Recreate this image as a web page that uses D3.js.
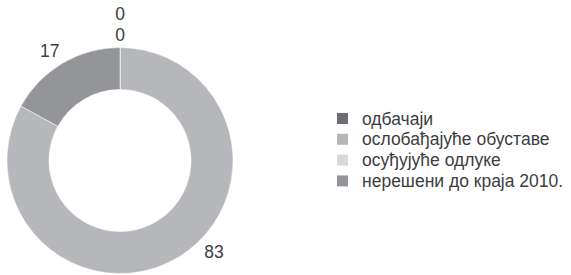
<!DOCTYPE html>
<html>
<head>
<meta charset="utf-8">
<script src="https://cdn.jsdelivr.net/npm/d3@7"></script>
<style>
  body { margin: 0; background: #fff; }
  text { font-family: "Liberation Sans", "DejaVu Sans", sans-serif; }
</style>
</head>
<body>
<div id="chart"></div>
<script>
var width = 571;
var height = 275;

// data
var categories = ["одбачаји", "ослобађајуће обуставе", "осуђујуће одлуке", "нерешени до краја 2010."];
var values = [0, 83, 0, 17];
var colors = ["#6d6e71", "#b6b7ba", "#d8d9db", "#939598"];

var cx = 120, cy = 160.5;
var outerR = 113, innerR = 71;
var labelGap = 6;
var labelSize = 17.5;

var svg = d3.select("#chart").append("svg")
  .attr("width", width)
  .attr("height", height)
  .style("background-color", "#fff");

var rows = categories.map(function (c, i) {
  return { name: c, value: values[i], color: colors[i], idx: i };
});

// zero slices go first so their labels sit at the top
var pie = d3.pie()
  .value(function (d) { return d.value; })
  .sort(function (a, b) {
    if ((a.value === 0) !== (b.value === 0)) return a.value === 0 ? -1 : 1;
    return a.idx - b.idx;
  });

var arcs = pie(rows);
var arc = d3.arc().innerRadius(innerR).outerRadius(outerR);

var g = svg.append("g").attr("transform", "translate(" + cx + "," + cy + ")");

g.selectAll("path")
  .data(arcs)
  .join("path")
  .attr("d", arc)
  .attr("fill", function (d) { return d.data.color; })
  .attr("stroke", "#fff")
  .attr("stroke-width", 0.5);

// labels: box placed just outside the ring at the mid angle
var zeroCount = 0;
var labels = g.selectAll(".lbl")
  .data(arcs)
  .join("text")
  .attr("class", "lbl")
  .attr("text-anchor", "middle")
  .attr("dominant-baseline", "central")
  .attr("font-size", labelSize)
  .attr("fill", "#3d3d3f")
  .text(function (d) { return d.data.value; });

labels.attr("transform", function (d) {
  var w = this.getComputedTextLength();
  var h = labelSize * 0.8;
  var a = (d.startAngle + d.endAngle) / 2;
  if (a > Math.PI * 0.75 && a < Math.PI) a = Math.PI * 0.75; // keep inside the box
  var r = outerR + labelGap;
  var s = Math.sin(a), c = Math.cos(a);
  var x = r * s + (Math.abs(s) > 0.1 ? Math.sign(s) * w / 2 : 0);
  var y = -r * c - (Math.abs(c) > 0.1 ? Math.sign(c) * h / 2 : 0);
  if (d.data.value === 0) {
    y -= zeroCount * 21;
    zeroCount++;
  }
  return "translate(" + x + "," + y + ")";
});

// legend
var legend = svg.append("g").attr("transform", "translate(337,113)");
var item = legend.selectAll(".item")
  .data(rows)
  .join("g")
  .attr("class", "item")
  .attr("transform", function (d, i) { return "translate(0," + (i * 20.8) + ")"; });

item.append("rect")
  .attr("width", 11)
  .attr("height", 11)
  .attr("fill", function (d) { return d.color; });

item.append("text")
  .attr("x", 25)
  .attr("y", 5.5)
  .attr("dominant-baseline", "central")
  .attr("font-size", 17.5)
  .attr("fill", "#3d3d3f")
  .text(function (d) { return d.name; });
</script>
</body>
</html>
